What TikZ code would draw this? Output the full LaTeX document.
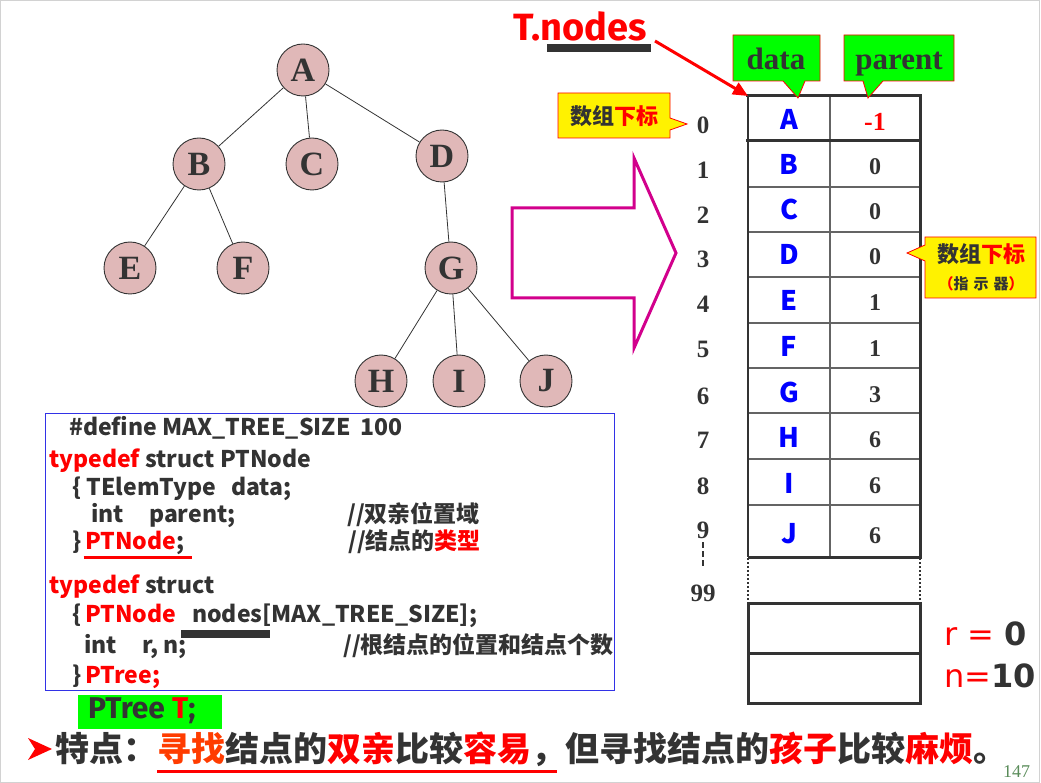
\documentclass[tikz,border=0pt]{standalone}
\usepackage{fontspec}
\setmainfont{Liberation Serif}
\newfontfamily\cjk{Noto Sans CJK SC}
\newfontfamily\comic{Fira Sans}
\newfontfamily\dsans{DejaVu Sans}
\usetikzlibrary{arrows.meta}
\newcommand\fsz[1]{\fontsize{#1}{#1}\selectfont}
\definecolor{pinkfill}{RGB}{224,184,184}
\definecolor{darkg}{RGB}{51,51,51}
\definecolor{mag}{RGB}{210,0,140}
\definecolor{lime}{RGB}{0,255,0}
\definecolor{codeblue}{RGB}{50,50,230}
\definecolor{pgnum}{RGB}{90,140,90}
\definecolor{orred}{RGB}{255,60,0}
\definecolor{rowline}{RGB}{100,100,100}
\tikzset{
  tn/.style={circle, draw=darkg, line width=0.9pt, fill=pinkfill, minimum size=52pt, inner sep=0pt, text=darkg, font=\fsz{34}\bfseries},
  edge/.style={draw=darkg, line width=0.8pt},
  idx/.style={anchor=base, inner sep=0pt, text=darkg, font=\fsz{25}\bfseries},
  dat/.style={anchor=base, inner sep=0pt, text=blue, font=\cjk\fsz{27}\bfseries},
  par/.style={anchor=base, inner sep=0pt, text=darkg, font=\fsz{24}\bfseries},
  code/.style={anchor=base west, inner sep=0pt, text=darkg, font=\cjk\fsz{23}\bfseries},
  ycall/.style={fill=yellow, draw=red, line width=0.8pt},
  gcall/.style={fill=lime, draw=red, line width=0.8pt},
  thick3/.style={draw=darkg, line width=3pt},
  thin2/.style={draw=rowline, line width=1.5pt},
}
\begin{document}
\begin{tikzpicture}[x=1pt,y=-1pt]
\useasboundingbox (0,0) rectangle (1041,783);
\draw[gray!35, line width=1pt] (0.5,0.5) rectangle (1039.5,782);

% ---------- tree ----------
\node[tn] (A) at (303,70) {A};
\node[tn] (B) at (199,164) {B};
\node[tn] (C) at (312,164) {C};
\node[tn] (D) at (442,156) {D};
\node[tn] (E) at (130,268) {E};
\node[tn] (F) at (243,268) {F};
\node[tn] (G) at (451,268) {G};
\node[tn] (H) at (381,381) {H};
\node[tn] (I) at (459,381) {I};
\node[tn] (J) at (546,381) {J};
\draw[edge] (A) -- (B);
\draw[edge] (A) -- (C);
\draw[edge] (A) -- (D);
\draw[edge] (B) -- (E);
\draw[edge] (B) -- (F);
\draw[edge] (D) -- (G);
\draw[edge] (G) -- (H);
\draw[edge] (G) -- (I);
\draw[edge] (G) -- (J);

% ---------- big magenta arrow ----------
\draw[mag, line width=3pt, line join=miter] (512,208)--(634,208)--(634,158)--(676,253)--(634,348)--(634,298)--(512,298)--cycle;

% ---------- table ----------
\coordinate (tl) at (748,96);
\foreach \yy in {187,232,277,323,368,413,459,505}{
  \draw[thin2] (748,\yy) -- (920,\yy);
}
\draw[thin2] (830,96) -- (830,557);
\draw[draw=darkg, line width=2pt] (748,96) -- (748,557);
\draw[thick3] (920,95) -- (920,558);
\draw[thick3] (746,96) -- (921.5,96);
\draw[thick3] (746,141) -- (920,141);
\draw[thick3] (748,557) -- (921.5,557);
\draw[draw=darkg, line width=2.2pt, dash pattern=on 2pt off 2pt] (748,558) -- (748,602);
\draw[draw=darkg, line width=2.2pt, dash pattern=on 2pt off 2pt] (920,558) -- (920,602);
\draw[thick3] (748,603) rectangle (920,703);
\draw[thick3] (748,653) -- (920,653);

% row indices
\node[idx] (i0) at (703,134) {0};
\node[idx] (i1) at (703,179) {1};
\node[idx] (i2) at (703,224) {2};
\node[idx] (i3) at (703,268) {3};
\node[idx] (i4) at (703,313) {4};
\node[idx] (i5) at (703,358) {5};
\node[idx] (i6) at (703,404) {6};
\node[idx] (i7) at (703,448) {7};
\node[idx] (i8) at (703,494) {8};
\node[idx] (i9) at (703,538) {9};
\node[idx] (i99) at (703,601) {99};
\draw[draw=darkg, line width=2.5pt, dash pattern=on 6pt off 3pt] (i9.south) ++(0,4) -- ++(0,26);

% data column
\node[dat] (d0) at (789,130) {A};
\node[dat] (d1) at (789,175) {B};
\node[dat] (d2) at (789,220) {C};
\node[dat] (d3) at (789,265) {D};
\node[dat] (d4) at (789,311) {E};
\node[dat] (d5) at (789,356) {F};
\node[dat] (d6) at (789,402) {G};
\node[dat] (d7) at (789,447) {H};
\node[dat] (d8) at (789,493) {I};
\node[dat] (d9) at (789,543) {J};
% parent column
\node[par, text=red, font=\fsz{26}\bfseries] (p0) at (875,131) {-1};
\node[par] (p1) at (875,175) {0};
\node[par] (p2) at (875,220) {0};
\node[par] (p3) at (875,265) {0};
\node[par] (p4) at (875,311) {1};
\node[par] (p5) at (875,356) {1};
\node[par] (p6) at (875,402) {3};
\node[par] (p7) at (875,447) {6};
\node[par] (p8) at (875,493) {6};
\node[par] (p9) at (875,543) {6};

% header callouts
\draw[gcall] (733,35)--(820,35)--(820,81)--(805,81)--(798,98)--(783,81)--(733,81)--cycle;
\node[anchor=base, inner sep=0pt, text=darkg, font=\fsz{31}\bfseries] (hdata) at (776,70) {data};
\draw[gcall] (844,35)--(954,35)--(954,81)--(883,81)--(868,98)--(863,81)--(844,81)--cycle;
\node[anchor=base, inner sep=0pt, text=darkg, font=\fsz{31}\bfseries] (hparent) at (899,70) {parent};

% T.nodes
\node[anchor=base west, inner sep=0pt, text=red, font=\comic\fsz{38}\bfseries] (tnodes) at (513,41) {T.nodes};
\fill[darkg] (547,44) rectangle (651,52);
\coordinate (tstart) at (655,41);
\draw[red, line width=3pt, -{Triangle[length=15pt,width=13pt]}] (tstart) -- (tl);

% index callouts
\draw[ycall] (558,93)--(670,93)--(670,118)--(687,124)--(670,130)--(670,138)--(558,138)--cycle;
\node[inner sep=0pt, font=\cjk\fsz{22}\bfseries, text=darkg] (c1) at (614,116) {数组\textcolor{red}{下标}};
\draw[ycall] (925,237)--(1036,237)--(1036,298)--(925,298)--(925,261)--(907,253)--(925,245)--cycle;
\node[inner sep=0pt, font=\cjk\fsz{22}\bfseries, text=darkg] (c2a) at (981,254) {数组\textcolor{red}{下标}};
\node[inner sep=0pt, font=\cjk\fsz{15}\bfseries, text=darkg] (c2b) at (981,284) {\textcolor{red}{（}指\,\,示\,\,器\textcolor{red}{）}};

% r, n
\node[anchor=base west, inner sep=0pt, font=\dsans\fsz{32}, text=red] (rv) at (944,645) {r = \textcolor{darkg}{\bfseries 0}};
\node[anchor=base west, inner sep=0pt, font=\dsans\fsz{32}, text=red] (nv) at (944,687) {n=\textcolor{darkg}{\bfseries 10}};

% ---------- code box ----------
\draw[codeblue, line width=1pt] (45,413) rectangle (614,690);
\node[code] (l1) at (69,435) {\#define MAX\_TREE\_SIZE};
\node[code] (l1b) at (360,435) {100};
\node[code] (l2) at (49,467) {\textcolor{red}{typedef} struct PTNode};
\node[code] (l3) at (72,495) {\{ TElemType};
\node[code] (l3b) at (231,495) {data;};
\node[code] (l4) at (91,522) {int};
\node[code] (l4b) at (149,522) {parent;};
\node[code] (l4c) at (347,522) {//双亲位置域};
\node[code] (l5) at (72,549) {\}};
\node[code] (l5b) at (85,549) {\textcolor{red}{PTNode};};
\node[code] (l5c) at (348,549) {//结点的\textcolor{red}{类型}};
\draw[red, line width=3pt] (83.5,557) -- (192,557);
\node[code] (l6) at (49,593) {\textcolor{red}{typedef} struct};
\node[code] (l7) at (72,622) {\{};
\node[code, text=red] (l7b) at (85,622) {PTNode};
\node[code] (l7c) at (192,622) {nodes[MAX\_TREE\_SIZE];};
\fill[darkg] (181,630) rectangle (270,638);
\node[code] (l8) at (84,653) {int};
\node[code] (l8b) at (142,653) {r, n;};
\node[code] (l8c) at (343,653) {//根结点的位置和结点个数};
\node[code] (l9) at (72,683) {\}};
\node[code, text=red] (l9b) at (85,683) {PTree;};

% PTree T;
\fill[lime] (78,695) rectangle (222,729);
\node[anchor=base west, inner sep=0pt, text=darkg, font=\comic\fsz{30}\bfseries] (ptree) at (88,718) {PTree \textcolor{red}{T};};

% ---------- bottom line ----------
\fill[red] (28,738) -- (52,749) -- (28,760) -- (35,749) -- cycle;
\node[anchor=base west, inner sep=0pt, text=darkg, font=\cjk\fsz{34}\bfseries] (bottom) at (55,761) {特点：\textcolor{orred}{寻找}结点的\textcolor{red}{双亲}比较\textcolor{red}{容易}，但寻找结点的\textcolor{red}{孩子}比较\textcolor{red}{麻烦}。};
\draw[red, line width=3pt] (157,771.5) -- (557,771.5);

\node[anchor=base west, inner sep=0pt, text=pgnum, font=\fsz{18}] (pg) at (1003,777) {147};
\end{tikzpicture}
\end{document}
